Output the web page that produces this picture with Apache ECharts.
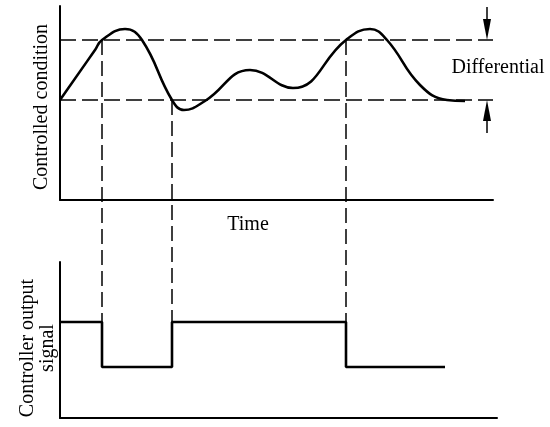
<!DOCTYPE html>
<html>
<head>
<meta charset="utf-8">
<script src="https://cdn.jsdelivr.net/npm/echarts@6/dist/echarts.min.js"></script>
</head>
<body style="margin:0;background:#fff">
<div id="container" style="width:550px;height:427px"></div>
<script>
// time axis in arbitrary units, condition / signal in arbitrary units
const conditionCurve = [
  [0, 10], [3.5, 15], [4.2, 16], [6.5, 17.1], [8.2, 16], [11.2, 10], [12.4, 9], [14.5, 9.9],
  [19, 13], [23.3, 11.2], [28.6, 16], [31, 17.1], [32.7, 16], [36, 11.5], [38.7, 10], [40.5, 9.9]
];
const lowerLimit = 10;
const upperLimit = 16;
const switchTimes = [4.2, 11.2, 28.6];
const switchLevels = [16, 10, 16];
const signalHigh = 9.6;
const signalLow = 5.1;
const signalSteps = [
  [0, 9.6], [4.2, 9.6], [4.2, 5.1], [11.2, 5.1], [11.2, 9.6], [28.6, 9.6], [28.6, 5.1], [38.5, 5.1]
];
const arrowTime = 42.7;
const arrowTop = 19.3;
const arrowBottom = 6.7;

const FONT = '"Liberation Serif", "DejaVu Serif", serif';
const chart = echarts.init(document.getElementById('container'), null, { renderer: 'canvas' });

const axisLine = { show: true, onZero: false, lineStyle: { color: '#000', width: 2 } };
const hidden = { axisTick: { show: false }, axisLabel: { show: false }, splitLine: { show: false } };

chart.setOption({
  animation: false,
  backgroundColor: '#fff',
  grid: [
    { left: 60, top: 6, width: 433, height: 194 },
    { left: 60, top: 262, width: 437, height: 156 }
  ],
  xAxis: [
    Object.assign({ type: 'value', gridIndex: 0, min: 0, max: 43.3, axisLine: axisLine }, hidden),
    Object.assign({ type: 'value', gridIndex: 1, min: 0, max: 43.7, axisLine: axisLine }, hidden)
  ],
  yAxis: [
    Object.assign({ type: 'value', gridIndex: 0, min: 0, max: 19.4, axisLine: axisLine }, hidden),
    Object.assign({ type: 'value', gridIndex: 1, min: 0, max: 15.6, axisLine: axisLine }, hidden)
  ],
  series: [
    {
      type: 'line',
      xAxisIndex: 0, yAxisIndex: 0,
      data: conditionCurve,
      smooth: 0.45,
      symbol: 'none',
      lineStyle: { color: '#000', width: 2.6 },
      markLine: {
        silent: true,
        symbol: 'none',
        label: { show: false },
        lineStyle: { color: '#000', width: 1.5, type: [16, 6] },
        data: [{ yAxis: lowerLimit }, { yAxis: upperLimit }]
      }
    },
    {
      type: 'line',
      xAxisIndex: 1, yAxisIndex: 1,
      data: signalSteps,
      symbol: 'none',
      lineStyle: { color: '#000', width: 2.6 }
    }
  ]
});

const px = (g, pt) => chart.convertToPixel({ gridIndex: g }, pt);
const graphics = [];

switchTimes.forEach(function (t, i) {
  const a = px(0, [t, switchLevels[i]]);
  const b = px(1, [t, signalHigh]);
  graphics.push({
    type: 'line', silent: true,
    shape: { x1: a[0], y1: a[1], x2: b[0], y2: b[1] },
    style: { stroke: '#000', lineWidth: 1.5, lineDash: [15, 6] }
  });
});

function arrow(from, tip) {
  const dir = tip[1] > from[1] ? 1 : -1;
  graphics.push({
    type: 'line', silent: true,
    shape: { x1: from[0], y1: from[1], x2: tip[0], y2: tip[1] - dir * 18 },
    style: { stroke: '#000', lineWidth: 1.5 }
  });
  graphics.push({
    type: 'polygon', silent: true,
    shape: { points: [[tip[0], tip[1]], [tip[0] - 4, tip[1] - dir * 21], [tip[0] + 4, tip[1] - dir * 21]] },
    style: { fill: '#000' }
  });
}
arrow(px(0, [arrowTime, arrowTop]), px(0, [arrowTime, upperLimit]));
arrow(px(0, [arrowTime, arrowBottom]), px(0, [arrowTime, lowerLimit]));

function label(text, x, y, rot) {
  graphics.push({
    type: 'text', silent: true, x: x, y: y, rotation: rot || 0,
    style: {
      text: text, fill: '#000', font: '20px ' + FONT,
      align: 'center', verticalAlign: 'middle', lineHeight: 20
    }
  });
}
label('Controlled condition', 42, 107, Math.PI / 2);
label('Differential', 498, 68);
label('Time', 248, 225);
label('Controller output\nsignal', 38, 348, Math.PI / 2);

chart.setOption({ graphic: graphics });
</script>
</body>
</html>
